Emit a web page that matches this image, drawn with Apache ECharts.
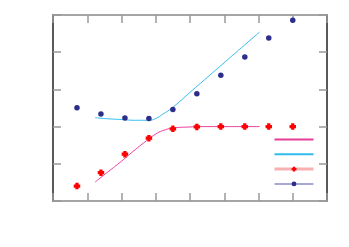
<!DOCTYPE html>
<html><head><meta charset="utf-8">
<script src="https://cdn.jsdelivr.net/npm/echarts@6/dist/echarts.min.js"></script>
<style>html,body{margin:0;padding:0;background:#fff}#c{width:349px;height:247px}</style>
</head><body><div id="c"></div>
<script>
var dotX = [0.7, 1.4, 2.1, 2.8, 3.5, 4.2, 4.9, 5.6, 6.3, 7.0];
var redY = [0.40, 0.76, 1.26, 1.69, 1.94, 1.99, 2.0, 2.0, 2.0, 2.0];
var blueY = [2.51, 2.34, 2.23, 2.22, 2.46, 2.88, 3.38, 3.87, 4.38, 4.86];
var fitX = [1.23, 1.6, 2.0, 2.4, 2.8, 3.0, 3.2, 3.5, 4.0, 4.5, 5.0, 5.5, 6.03];
var magY = [0.51, 0.78, 1.07, 1.38, 1.67, 1.80, 1.89, 1.96, 1.99, 2.0, 2.0, 2.0, 2.0];
var cyanY = [2.24, 2.21, 2.19, 2.17, 2.17, 2.22, 2.33, 2.52, 2.92, 3.32, 3.72, 4.12, 4.54];
var names = ['fit A', 'fit B', 'data A', 'data B'];

function pairs(xs, ys) { return xs.map(function (x, i) { return [x, ys[i]]; }); }
function tick() { return { show: true, inside: true, length: 8, lineStyle: { color: '#999', width: 1.5 } }; }
function axis(kind, pos, max, color) {
  return { type: 'value', min: 0, max: max, interval: 1, position: pos,
    axisLine: { show: true, onZero: false, lineStyle: { color: color, width: 1.5 } },
    axisTick: tick(), axisLabel: { show: false }, splitLine: { show: false } };
}
var chart = echarts.init(document.getElementById('c'));
chart.setOption({
  animation: false,
  grid: { left: 53, right: 22, top: 15, bottom: 46 },
  xAxis: [ axis('x', 'bottom', 8, '#888'), axis('x', 'top', 8, '#888') ],
  yAxis: [ axis('y', 'left', 5, '#222'), axis('y', 'right', 5, '#222') ],
  legend: {
    orient: 'vertical', left: 273, top: 136.5, padding: 0, itemWidth: 39, itemHeight: 6, itemGap: 9.4,
    formatter: function () { return ''; },
    textStyle: { fontSize: 1 },
    data: [
      { name: names[0], itemStyle: { opacity: 0 }, lineStyle: { opacity: 1 } },
      { name: names[1], itemStyle: { opacity: 0 }, lineStyle: { opacity: 1 } },
      { name: names[2], lineStyle: { color: '#f9b0b0', width: 3, opacity: 1 } },
      { name: names[3], lineStyle: { color: '#a8a8d4', width: 2, opacity: 1 } }
    ]
  },
  series: [
    { name: names[0], type: 'line', smooth: true, symbol: 'none', data: pairs(fitX, magY),
      lineStyle: { color: '#e83c9c', width: 1 }, itemStyle: { color: '#e83c9c' } },
    { name: names[1], type: 'line', smooth: true, symbol: 'none', data: pairs(fitX, cyanY),
      lineStyle: { color: '#33bbee', width: 1 }, itemStyle: { color: '#33bbee' } },
    { name: names[2], type: 'line', symbol: 'path://M2.5,0H7.5V2.5H10V7.5H7.5V10H2.5V7.5H0V2.5H2.5Z', symbolSize: 6.5,
      data: pairs(dotX, redY), lineStyle: { opacity: 0 }, itemStyle: { color: '#ff0000' } },
    { name: names[3], type: 'line', symbol: 'circle', symbolSize: 5.5,
      data: pairs(dotX, blueY), lineStyle: { opacity: 0 }, itemStyle: { color: '#2d2d8c' } }
  ]
});
</script></body></html>
